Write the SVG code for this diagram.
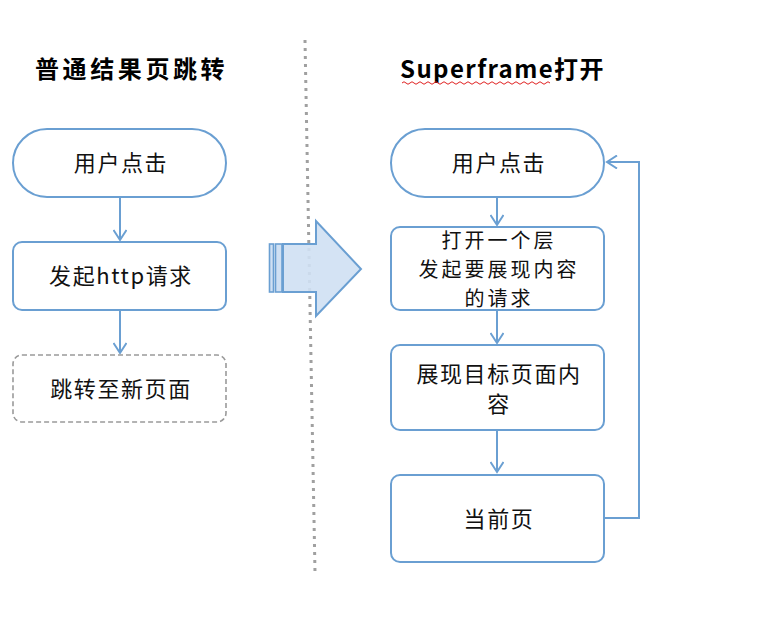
<svg xmlns="http://www.w3.org/2000/svg" width="760" height="620" viewBox="0 0 760 620">
<defs>
<style>
.n{fill:#fff;stroke:#6a9fd2;stroke-width:2}
.d{fill:#fff;stroke:#9a9a9a;stroke-width:1.6;stroke-dasharray:5 3}
.t{font-family:"Noto Sans CJK SC","Liberation Sans",sans-serif;font-size:22px;letter-spacing:1.6px;fill:#111;text-anchor:middle}
.s{font-size:20px;letter-spacing:3px}
.h{font-family:"Noto Sans CJK SC","Liberation Sans",sans-serif;font-size:24px;font-weight:bold;fill:#000}
.c{fill:none;stroke:#6a9fd2;stroke-width:2}
</style>
<marker id="ar" markerWidth="14" markerHeight="14" refX="11" refY="7" orient="auto" markerUnits="userSpaceOnUse">
<path d="M1,0.5 L11,7 L1,13.5" fill="none" stroke="#6a9fd2" stroke-width="2"/>
</marker>
</defs>
<rect width="760" height="620" fill="#fff"/>
<text class="h" x="35" y="78" letter-spacing="3.6">普通结果页跳转</text>
<text class="h" x="400" y="78" letter-spacing="1.4">Superframe打开</text>
<path d="M402,83 q2,-2.5 4,0 t4,0 t4,0 t4,0 t4,0 t4,0 t4,0 t4,0 t4,0 t4,0 t4,0 t4,0 t4,0 t4,0 t4,0 t4,0 t4,0 t4,0 t4,0 t4,0 t4,0 t4,0 t4,0 t4,0 t4,0 t4,0 t4,0 t4,0 t4,0 t4,0 t4,0 t4,0 t4,0 t4,0 t4,0 t4,0 t4,0" fill="none" stroke="#e02020" stroke-width="1"/>
<line x1="305" y1="40" x2="315" y2="572" stroke="#a0a0a0" stroke-width="3" stroke-dasharray="3 5"/>
<g id="bigarrow">
<path d="M283,244 L316,244 L316,221 L361,269 L316,316 L316,292 L283,292 Z" fill="#cfe0f3" fill-opacity="0.9" stroke="#6a9fd2" stroke-width="2"/>
<rect x="269.5" y="244" width="4" height="48" fill="#cfe0f3" stroke="#6a9fd2" stroke-width="1.6"/>
<rect x="275.5" y="244" width="6.5" height="48" fill="#cfe0f3" stroke="#6a9fd2" stroke-width="1.6"/>
</g>
<g id="connectors">
<line class="c" x1="120" y1="197" x2="120" y2="240" marker-end="url(#ar)"/>
<line class="c" x1="120" y1="310" x2="120" y2="353" marker-end="url(#ar)"/>
<line class="c" x1="497" y1="197" x2="497" y2="225" marker-end="url(#ar)"/>
<line class="c" x1="497" y1="310" x2="497" y2="343" marker-end="url(#ar)"/>
<line class="c" x1="497" y1="430" x2="497" y2="472" marker-end="url(#ar)"/>
<polyline class="c" points="604,518 639,518 639,162 607,162" marker-end="url(#ar)"/>
</g>
<g id="l1"><rect class="n" x="13" y="129" width="213" height="68" rx="34"/><text class="t" x="121" y="171">用户点击</text></g>
<g id="l2"><rect class="n" x="13" y="242" width="213" height="68" rx="9"/><text class="t" x="121" y="284">发起http请求</text></g>
<g id="l3"><rect class="d" x="13" y="355" width="213" height="67" rx="9"/><text class="t" x="121" y="397">跳转至新页面</text></g>
<g id="r1"><rect class="n" x="391" y="129" width="213" height="68" rx="34"/><text class="t" x="499" y="171">用户点击</text></g>
<g id="r2"><rect class="n" x="391" y="227" width="213" height="83" rx="9"/><text class="t s" x="499" y="248">打开一个层</text><text class="t s" x="499" y="277">发起要展现内容</text><text class="t s" x="499" y="306">的请求</text></g>
<g id="r3"><rect class="n" x="391" y="345" width="213" height="85" rx="9"/><text class="t" x="499" y="382">展现目标页面内</text><text class="t" x="499" y="412">容</text></g>
<g id="r4"><rect class="n" x="391" y="475" width="213" height="87" rx="9"/><text class="t" x="499" y="527">当前页</text></g>
</svg>
